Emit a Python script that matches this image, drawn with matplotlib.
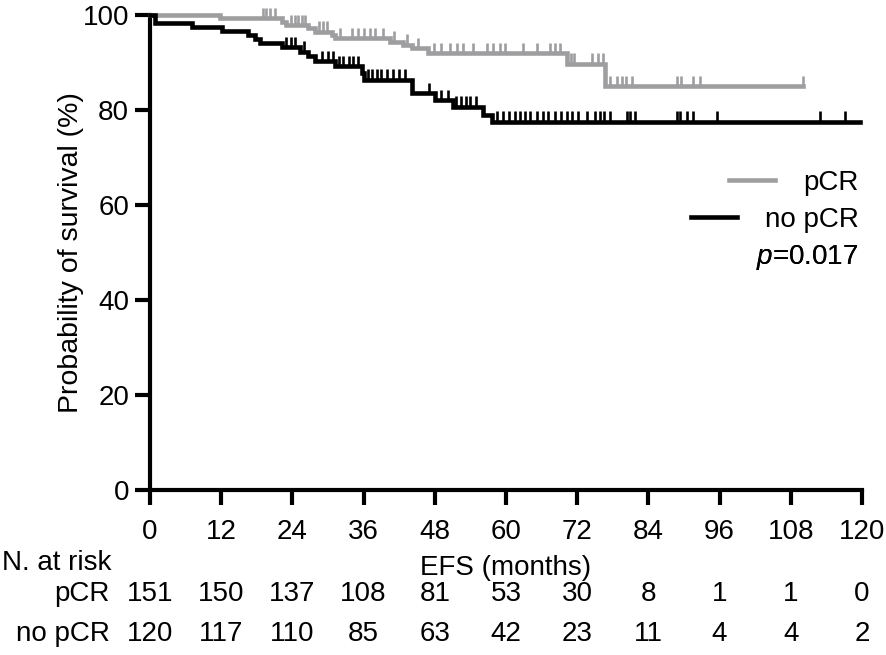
import numpy as np
import matplotlib
matplotlib.use('Agg')
import matplotlib.pyplot as plt
from matplotlib.lines import Line2D
from matplotlib.transforms import blended_transform_factory

plt.rcParams['font.family'] = ['Liberation Sans', 'DejaVu Sans']
plt.rcParams['mathtext.fontset'] = 'custom'
plt.rcParams['mathtext.it'] = 'Liberation Sans:italic'
plt.rcParams['mathtext.rm'] = 'Liberation Sans'

# pCR: event times (months) and survival (%) after each step
pcr_times = [0, 11.8, 22.2, 23.0, 26.7, 27.8, 30.6, 31.2, 40.4, 42.7, 44.1, 46.9, 70.3, 76.7, 110.0]
pcr_surv = [100, 99.3, 98.6, 97.9, 97.2, 96.5, 95.8, 95.1, 94.4, 93.7, 93.0, 92.0, 89.7, 85.0, 85.0]
pcr_cens = [19.0, 19.6, 20.3, 21.0, 23.8, 24.4, 25.0, 25.6, 26.2, 28.5, 29.2, 29.9, 32.1, 34.0,
            35.0, 36.0, 37.0, 38.0, 39.3, 41.2, 43.3, 45.2, 47.8, 49.0, 50.5, 51.7, 52.8, 54.5,
            56.8, 57.8, 59.0, 59.8, 62.9, 65.2, 67.4, 68.3, 69.1, 70.9, 71.5, 74.5, 75.5, 76.3,
            77.5, 78.7, 79.5, 80.3, 81.2, 88.8, 89.5, 91.5, 92.7, 110.0]

# no pCR
npcr_times = [0, 0.8, 7.0, 12.1, 16.5, 17.7, 18.5, 22.2, 25.3, 26.7, 27.8, 31.2, 35.7, 36.0,
              44.1, 48.0, 51.1, 56.1, 57.6, 119.7]
npcr_surv = [100, 98.3, 97.5, 96.7, 95.8, 94.9, 94.0, 93.2, 92.3, 91.3, 90.3, 89.2, 87.7, 86.4,
             83.5, 82.1, 80.7, 79.0, 77.5, 77.5]
npcr_cens = [23.0, 23.8, 24.4, 26.0, 29.0, 30.0, 30.8, 31.8, 32.5, 33.5, 34.2, 35.0, 36.8, 37.5,
             38.2, 39.0, 40.0, 41.0, 42.0, 43.0, 47.0, 49.0, 50.2, 51.5, 52.5, 53.3, 54.0, 55.0,
             58.5, 59.5, 60.5, 61.5, 62.4, 63.2, 64.0, 65.2, 66.2, 67.1, 68.3, 69.3, 70.3, 71.1,
             72.1, 73.7, 75.0, 75.8, 76.5, 77.5, 80.4, 80.9, 81.7, 88.8, 89.3, 90.5, 91.5, 95.6,
             113.0, 117.1]

risk_times = [0, 12, 24, 36, 48, 60, 72, 84, 96, 108, 120]
risk_pcr = [151, 150, 137, 108, 81, 53, 30, 8, 1, 1, 0]
risk_npcr = [120, 117, 110, 85, 63, 42, 23, 11, 4, 4, 2]

gray = '#9e9ea0'
fs = 20


def cens_y(times, surv, cens):
    idx = np.searchsorted(times, cens, side='right') - 1
    return np.array(surv)[idx]


fig = plt.figure(figsize=(8.86, 6.55), dpi=100)
ax = fig.add_axes([0.1693, 0.2519, 0.8036, 0.7252])

ax.step(pcr_times, pcr_surv, where='post', color=gray, lw=3.3, clip_on=False, zorder=3,
        solid_joinstyle='miter')
ax.step(npcr_times, npcr_surv, where='post', color='black', lw=3.3, clip_on=False, zorder=3,
        solid_joinstyle='miter')

y0 = cens_y(pcr_times, pcr_surv, pcr_cens)
ax.vlines(pcr_cens, y0, y0 + 2.2, color=gray, lw=1.9, clip_on=False, zorder=3)
y1 = cens_y(npcr_times, npcr_surv, npcr_cens)
ax.vlines(npcr_cens, y1, y1 + 2.2, color='black', lw=1.9, clip_on=False, zorder=3)

ax.set_xlim(0, 120)
ax.set_ylim(0, 100)
ax.set_xticks(risk_times)
ax.set_yticks([0, 20, 40, 60, 80, 100])
ax.spines['top'].set_visible(False)
ax.spines['right'].set_visible(False)
ax.spines['left'].set_linewidth(3)
ax.spines['bottom'].set_linewidth(3)
ax.tick_params(axis='both', width=3, length=11, labelsize=fs, color='black')
ax.tick_params(axis='x', pad=10)
ax.tick_params(axis='y', pad=4)

ax.set_ylabel('Probability of survival (%)', fontsize=fs + 0.5)
ax.yaxis.set_label_coords(-0.092, 0.5)
ax.set_xlabel('EFS (months)', fontsize=fs)
ax.xaxis.set_label_coords(0.5, -0.137)

# legend rows, each right aligned like the original
rows = [(Line2D([], [], color=gray, lw=3.3), 'pCR', 0.646),
        (Line2D([], [], color='black', lw=3.3), 'no pCR', 0.568),
        (Line2D([], [], color='none'), '$p$=0.017', 0.490)]
for h, lab, yy in rows:
    leg = ax.legend([h], [lab], loc='center right', bbox_to_anchor=(0.995, yy), frameon=False,
                    fontsize=fs, handlelength=1.65, handletextpad=1.0,
                    borderpad=0, borderaxespad=0)
    ax.add_artist(leg)

tr = blended_transform_factory(ax.transData, fig.transFigure)
fig.text(0.002, 1 - 563 / 655, 'N. at risk', fontsize=fs, ha='left', va='center')
fig.text(110 / 886, 1 - 594 / 655, 'pCR', fontsize=fs, ha='right', va='center')
fig.text(110 / 886, 1 - 634 / 655, 'no pCR', fontsize=fs, ha='right', va='center')
for t, a, b in zip(risk_times, risk_pcr, risk_npcr):
    ax.text(t, 1 - 594 / 655, str(a), transform=tr, fontsize=fs, ha='center', va='center')
    ax.text(t, 1 - 634 / 655, str(b), transform=tr, fontsize=fs, ha='center', va='center')

fig.savefig('out.png', dpi=100)
